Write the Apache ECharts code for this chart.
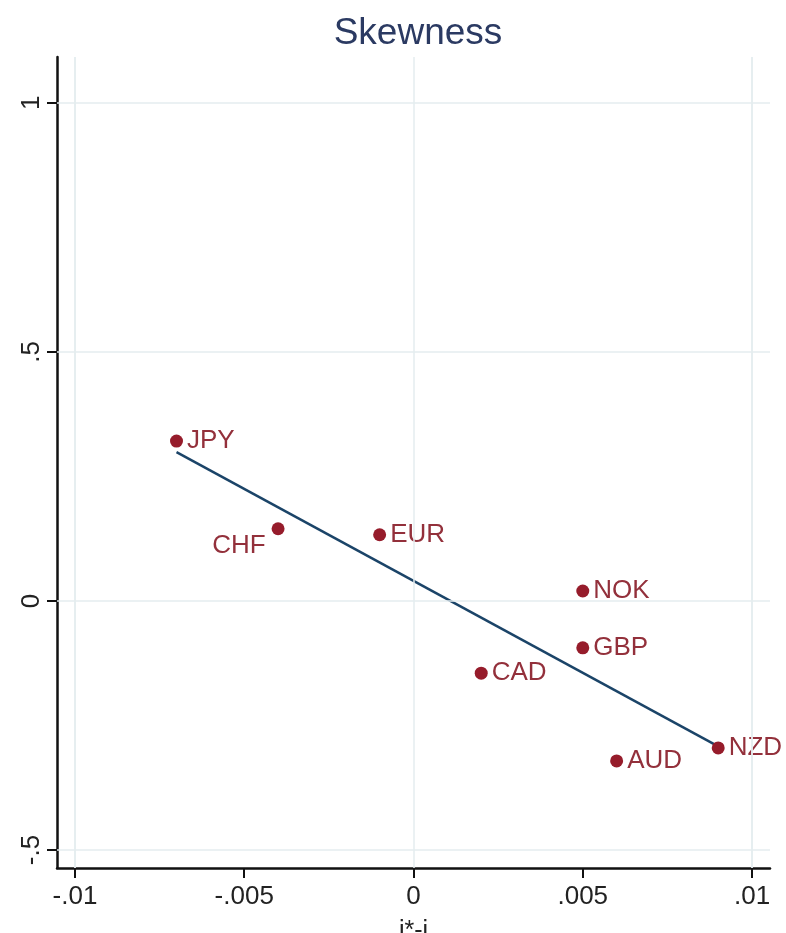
<!DOCTYPE html>
<html>
<head>
<meta charset="utf-8">
<script src="https://cdn.jsdelivr.net/npm/echarts@6/dist/echarts.min.js"></script>
<style>
  html, body { margin: 0; padding: 0; background: #fff; }
  #chart { width: 786px; height: 933px; }
</style>
</head>
<body>
<div id="chart"></div>
<script>
// Currencies and their (i*-i, skewness) pairs
const currencies = ['JPY', 'CHF', 'EUR', 'NOK', 'GBP', 'CAD', 'AUD', 'NZD'];
const rateDiff   = [-0.007, -0.004, -0.001, 0.005, 0.005, 0.002, 0.006, 0.009];
const skewness   = [0.321, 0.145, 0.133, 0.020, -0.094, -0.145, -0.321, -0.295];

// Fitted line end points
const fitX = [-0.007, 0.009];
const fitY = [0.299, -0.292];

// Axis ticks and their labels
const xTicks = [-0.01, -0.005, 0, 0.005, 0.01];
const xTickLabels = ['-.01', '-.005', '0', '.005', '.01'];
const yTicks = [-0.5, 0, 0.5, 1];
const yTickLabels = ['-.5', '0', '.5', '1'];

const maroon = '#961c2b';
const labelColor = '#93303b';
const navy = '#1b4468';
const gridColor = '#e4ecef';
const font = '"Liberation Sans", Arial, sans-serif';

const xLabel = v => { const i = xTicks.findIndex(t => Math.abs(t - v) < 1e-9); return i >= 0 ? xTickLabels[i] : ''; };
const yLabel = v => { const i = yTicks.findIndex(t => Math.abs(t - v) < 1e-9); return i >= 0 ? yTickLabels[i] : ''; };

const points = currencies.map((c, i) => ({
  name: c,
  value: [rateDiff[i], skewness[i]],
  label: c === 'CHF'
    ? { position: 'left', offset: [-2, 17] }
    : { position: 'right' }
}));

const chart = echarts.init(document.getElementById('chart'));
chart.setOption({
  animation: false,
  backgroundColor: '#fff',
  title: {
    text: 'Skewness',
    left: 413,
    textAlign: 'center',
    top: 10,
    textStyle: { fontFamily: font, fontSize: 37, fontWeight: 'normal', color: '#2b3a62' }
  },
  grid: { left: 57, right: 16, top: 57, bottom: 65, containLabel: false, outerBoundsMode: 'none' },
  xAxis: {
    type: 'value',
    min: -0.01053,
    max: 0.01053,
    name: 'i*-i',
    nameLocation: 'middle',
    nameGap: 51,
    nameTextStyle: { fontFamily: font, fontSize: 25, color: '#222' },
    axisLine: { show: true, onZero: false, lineStyle: { color: '#111', width: 2.5 } },
    axisTick: { show: true, length: 10, lineStyle: { color: '#111', width: 2 }, customValues: xTicks },
    axisLabel: { show: true, margin: 16, fontFamily: font, fontSize: 26, color: '#222', formatter: xLabel, customValues: xTicks },
    splitLine: { show: false }
  },
  yAxis: {
    type: 'value',
    min: -0.536,
    max: 1.092,
    axisLine: { show: true, onZero: false, lineStyle: { color: '#111', width: 2.5 } },
    axisTick: { show: true, length: 10, lineStyle: { color: '#111', width: 2 }, customValues: yTicks },
    axisLabel: { show: true, rotate: 90, margin: 12, fontFamily: font, fontSize: 26, color: '#222', formatter: yLabel, customValues: yTicks },
    splitLine: { show: false }
  },
  series: [
    {
      // grid lines at the tick positions
      type: 'line',
      data: [],
      silent: true,
      markLine: {
        silent: true,
        symbol: 'none',
        label: { show: false },
        lineStyle: { color: gridColor, width: 1.5, type: 'solid' },
        data: xTicks.map(v => ({ xAxis: v })).concat(yTicks.map(v => ({ yAxis: v })))
      },
      z: 1
    },
    {
      name: 'Fitted values',
      type: 'line',
      data: fitX.map((x, i) => [x, fitY[i]]),
      symbol: 'none',
      lineStyle: { color: navy, width: 2.5 },
      z: 3
    },
    {
      name: 'Skewness',
      type: 'scatter',
      data: points,
      symbol: 'circle',
      symbolSize: 13,
      itemStyle: { color: maroon, opacity: 1 },
      label: {
        show: true,
        formatter: p => p.name,
        fontFamily: font,
        fontSize: 26,
        color: labelColor,
        distance: 4
      },
      z: 4
    }
  ]
});
</script>
</body>
</html>
